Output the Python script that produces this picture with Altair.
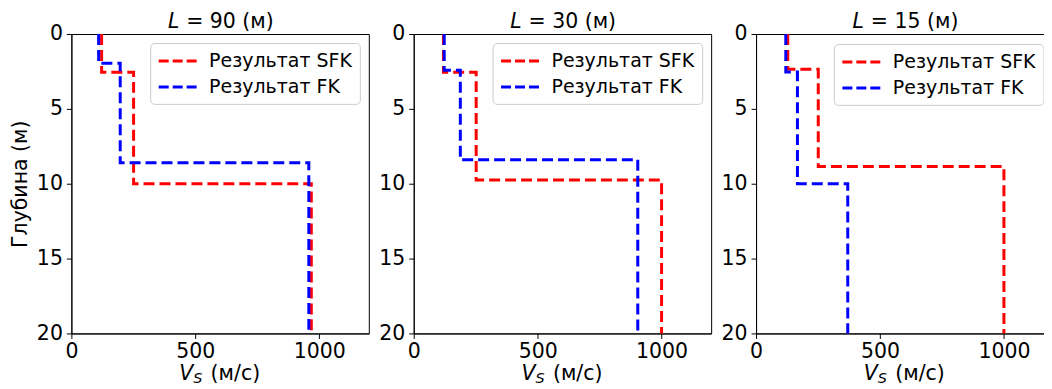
import altair as alt
import pandas as pd

# ---- data ----
L_values = [90, 30, 15]
series_names = ["Результат SFK", "Результат FK"]
series_colors = ["#ff0000", "#0000ff"]

# layer velocities (m/s) and depth of the bottom of each layer (m)
sfk_v = [[122, 251, 968], [120, 252, 1000], [128, 251, 1000]]
sfk_d = [[2.55, 10.0, 20.0], [2.55, 9.75, 20.0], [2.36, 8.85, 20.0]]
fk_v = [[110, 197, 958], [123, 188, 904], [120, 167, 370]]
fk_d = [[1.95, 8.6, 20.0], [2.42, 8.4, 20.0], [2.53, 10.0, 20.0]]

x_ticks = [0, 500, 1000]
y_ticks = [0, 5, 10, 15, 20]
x_domain = [0, 1200]
y_domain = [0, 20]

y_title = "Глубина (м)"

FONT = "DejaVu Sans"
FS = 20.5
W, H = 298, 300
DASH = [11, 5]
legend_offsets = [9, 9, 10]


def profile(vs, ds, name):
    rows = []
    top = 0.0
    i = 0
    for v, d in zip(vs, ds):
        rows.append({"v": v, "z": top, "i": i, "s": name})
        i += 1
        rows.append({"v": v, "z": d, "i": i, "s": name})
        i += 1
        top = d
    return pd.DataFrame(rows)


def text_layer(txt, x, y, size=FS, style="normal"):
    return alt.Chart(pd.DataFrame({"t": [txt]})).mark_text(
        align="left", baseline="alphabetic", font=FONT, fontSize=size,
        fontStyle=style, color="black"
    ).encode(text="t:N", x=alt.value(x), y=alt.value(y))


def panel(k):
    color = alt.Color(
        "s:N",
        scale=alt.Scale(domain=series_names, range=series_colors),
        legend=alt.Legend(
            title=None, orient="top-right", offset=legend_offsets[k],
            symbolType="M-1,0H3", symbolSize=361, symbolStrokeWidth=3,
            symbolDash=[10, 4], labelFont=FONT, labelFontSize=19,
            labelColor="black", labelOffset=30, labelLimit=300,
            rowPadding=5, padding=7, fillColor="white",
            strokeColor="#cccccc", cornerRadius=4,
        ),
    )
    x = alt.X("v:Q", scale=alt.Scale(domain=x_domain, nice=False, zero=False),
              axis=alt.Axis(values=x_ticks, title=None, labelFlush=False,
                            grid=False, labelPadding=3, format="d"))
    if k == 0:
        yaxis = alt.Axis(values=y_ticks, title=y_title, grid=False,
                         labelPadding=4, titlePadding=6)
    else:
        yaxis = alt.Axis(values=y_ticks, title=None, grid=False, labelPadding=4)
    y = alt.Y("z:Q", scale=alt.Scale(domain=y_domain, reverse=True, nice=False),
              axis=yaxis)

    red = alt.Chart(profile(sfk_v[k], sfk_d[k], series_names[0])).mark_line(
        strokeDash=DASH, strokeWidth=3
    ).encode(x=x, y=y, color=color, order="i:Q")
    blue = alt.Chart(profile(fk_v[k], fk_d[k], series_names[1])).mark_line(
        strokeDash=DASH, strokeWidth=3
    ).encode(x=x, y=y, color=color, order="i:Q")

    layers = [
        red, blue,
        text_layer("L", 96.7, -6, style="italic"),
        text_layer(f"= {L_values[k]} (м)", 115, -6),
        text_layer("V", 108, 347, style="italic"),
        text_layer("S", 122, 349.5, size=14.5, style="italic"),
        text_layer("(м/с)", 139.5, 347),
    ]
    return alt.layer(*layers).properties(width=W, height=H)


chart = alt.hconcat(
    panel(0), panel(1), panel(2), spacing=45, bounds="flush"
).resolve_legend(color="independent").properties(
    padding={"left": 1.5, "top": 2.7, "right": -10.5, "bottom": 2}
).configure_view(
    stroke="black", strokeWidth=1
).configure_axis(
    domainColor="black", tickColor="black", labelColor="black",
    labelFont=FONT, labelFontSize=FS, tickSize=5,
    titleFont=FONT, titleFontSize=FS, titleFontWeight="normal",
    titleColor="black",
)

chart.save("out.html", embed_options={"renderer": "svg", "actions": False})
